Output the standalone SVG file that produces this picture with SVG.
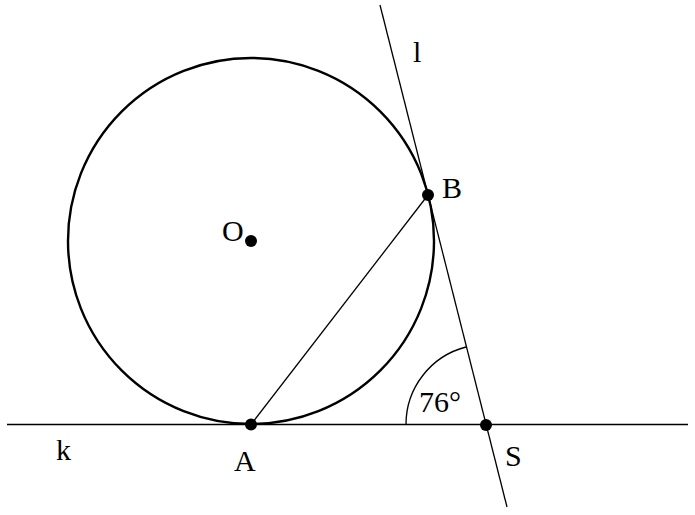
<svg xmlns="http://www.w3.org/2000/svg" width="695" height="515" viewBox="0 0 695 515">
<style>
.t{font-family:"Liberation Serif","DejaVu Serif",serif;font-size:30px;fill:#000}
.ln{stroke:#000;stroke-width:1.3;fill:none}
.pt{fill:#000}
</style>
<rect width="695" height="515" fill="#fff"/>
<g id="circle"><circle cx="251" cy="241" r="183" fill="none" stroke="#000" stroke-width="2.4"/></g>
<g id="connectors">
<line class="ln" x1="7" y1="424.5" x2="688" y2="424.5"/>
<line class="ln" x1="380" y1="5" x2="507" y2="507"/>
<line class="ln" x1="251" y1="424.5" x2="428" y2="195"/>
<path class="ln" d="M406 424.5 A80 80 0 0 1 466 347"/>
</g>
<g id="O"><circle class="pt" cx="251" cy="241" r="6"/><text class="t" x="222" y="241">O</text></g>
<g id="A"><circle class="pt" cx="251" cy="424.5" r="6"/><text class="t" x="234" y="471">A</text></g>
<g id="B"><circle class="pt" cx="428" cy="195" r="6"/><text class="t" x="442" y="198">B</text></g>
<g id="S"><circle class="pt" cx="486" cy="425" r="6"/><text class="t" x="505" y="466">S</text></g>
<g id="k"><text class="t" x="56" y="460">k</text></g>
<g id="l"><text class="t" x="413" y="62">l</text></g>
<g id="angle"><text class="t" x="419" y="412">76°</text></g>
</svg>
